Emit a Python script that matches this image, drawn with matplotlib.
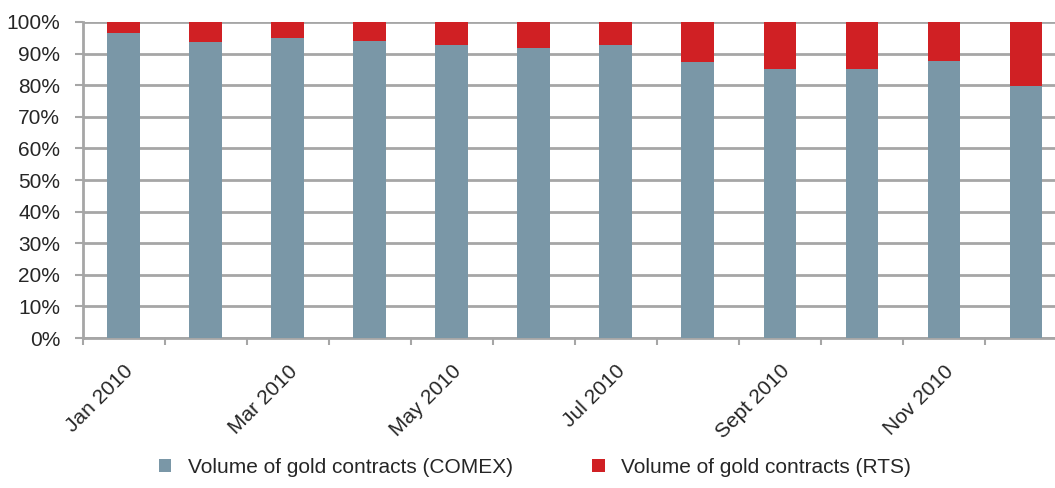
import numpy as np
import matplotlib.pyplot as plt
from matplotlib.ticker import PercentFormatter

plt.rcParams['font.family'] = ['Liberation Sans', 'DejaVu Sans']

months = ['Jan 2010', 'Feb 2010', 'Mar 2010', 'Apr 2010', 'May 2010', 'Jun 2010',
          'Jul 2010', 'Aug 2010', 'Sept 2010', 'Oct 2010', 'Nov 2010', 'Dec 2010']
comex = [96.5, 93.7, 95.0, 94.0, 92.7, 91.8, 92.7, 87.4, 85.0, 85.0, 87.7, 79.7]
rts = [100 - c for c in comex]

col_comex = '#7a97a7'
col_rts = '#d02024'
grid_col = '#a6a6a6'
txt_col = '#262626'
fs = 15

fig = plt.figure(figsize=(10.55, 4.88), dpi=100)
# plot area runs a little past the right edge of the figure
ax = fig.add_axes([82.5 / 1055, 150 / 488, 984.6 / 1055, 316 / 488])

x = np.arange(len(months))
ax.bar(x, comex, width=0.4, color=col_comex, zorder=3,
       label='Volume of gold contracts (COMEX)')
ax.bar(x, rts, width=0.4, bottom=comex, color=col_rts, zorder=3,
       label='Volume of gold contracts (RTS)')

ax.set_xlim(-0.5, len(months) - 0.5)
ax.set_ylim(0, 100)
ax.set_yticks(np.arange(0, 101, 10))
ax.yaxis.set_major_formatter(PercentFormatter(decimals=0))
ax.grid(axis='y', color=grid_col, linewidth=2, zorder=0)
ax.tick_params(axis='y', labelsize=fs, colors=grid_col, labelcolor=txt_col,
               length=6, width=1.5, pad=10)

# ticks sit between the bars, labels every other month
ax.set_xticks(np.arange(-0.5, len(months), 1))
ax.set_xticklabels([])
ax.set_xticks(x[::2], minor=True)
ax.set_xticklabels(months[::2], minor=True, rotation=45, ha='right',
                   rotation_mode='anchor', fontsize=fs, color=txt_col)
ax.tick_params(axis='x', which='major', colors=grid_col, length=5, width=1.5)
ax.tick_params(axis='x', which='minor', length=0, pad=17)

for s in ['top', 'right']:
    ax.spines[s].set_visible(False)
for s in ['left', 'bottom']:
    ax.spines[s].set_color(grid_col)
    ax.spines[s].set_linewidth(2)

leg = fig.legend(loc='lower left', bbox_to_anchor=(140 / 1055, -0.015), ncol=2,
                 frameon=False, fontsize=fs, handlelength=0.6, handleheight=0.6,
                 columnspacing=3.8, handletextpad=0.8)
for t in leg.get_texts():
    t.set_color(txt_col)

fig.savefig('out.png', dpi=100)
